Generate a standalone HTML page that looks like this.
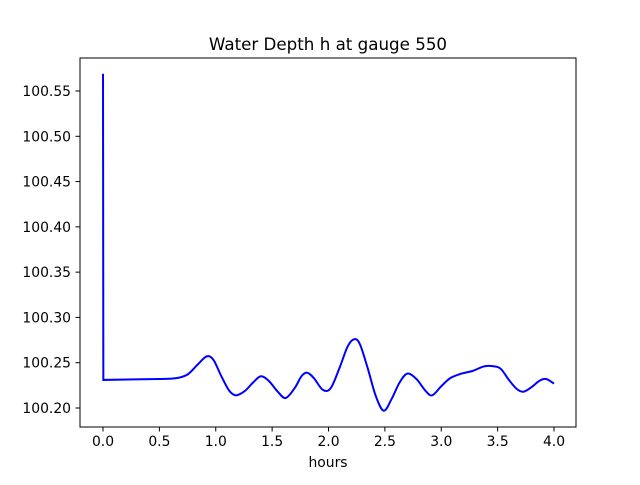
<!DOCTYPE html>
<html><head><meta charset="utf-8"><style>
body{margin:0;background:#fff;}
svg text{font-family:"DejaVu Sans","Liberation Sans",sans-serif;font-size:13.9px;fill:#000;}
</style></head><body>
<svg id="chart" width="640" height="480" xmlns="http://www.w3.org/2000/svg">
<rect x="0" y="0" width="640" height="480" fill="#fff"/>
<text x="328" y="50" text-anchor="middle" style="font-size:16.7px">Water Depth h at gauge 550</text>
<g id="ticks"></g>
<path id="line" fill="none" stroke="#0000ff" stroke-width="2"/>
<rect x="80" y="58" width="496" height="369" fill="none" stroke="#000" stroke-width="1"/>
<text x="328" y="467" text-anchor="middle">hours</text>
</svg>
<script>
const hours=[0,0.003,0.5,0.65,0.75,0.84,0.92,0.98,1.05,1.12,1.18,1.26,1.33,1.4,1.47,1.55,1.62,1.7,1.76,1.81,1.87,1.95,2.02,2.1,2.17,2.23,2.28,2.35,2.42,2.49,2.56,2.63,2.7,2.78,2.86,2.92,3.0,3.08,3.18,3.28,3.38,3.47,3.53,3.6,3.67,3.73,3.8,3.87,3.93,4.0];
const depth=[100.569,100.231,100.232,100.233,100.237,100.248,100.257,100.253,100.235,100.219,100.214,100.219,100.228,100.235,100.230,100.218,100.211,100.222,100.235,100.239,100.233,100.220,100.222,100.245,100.268,100.276,100.270,100.243,100.213,100.197,100.210,100.228,100.238,100.232,100.219,100.214,100.224,100.233,100.238,100.241,100.246,100.246,100.243,100.231,100.221,100.218,100.223,100.230,100.232,100.227];
const xTicks=[0,0.5,1,1.5,2,2.5,3,3.5,4];
const xTickLabels=["0.0","0.5","1.0","1.5","2.0","2.5","3.0","3.5","4.0"];
const yTicks=[100.20,100.25,100.30,100.35,100.40,100.45,100.50,100.55];
const yTickLabels=["100.20","100.25","100.30","100.35","100.40","100.45","100.50","100.55"];
const X=v=>103+v*112.75;
const Y=v=>408-(v-100.20)*905.7;
const NS="http://www.w3.org/2000/svg";
const g=document.getElementById('ticks');
function mk(tag,attrs){const e=document.createElementNS(NS,tag);for(const k in attrs)e.setAttribute(k,attrs[k]);return e;}
xTicks.forEach((t,i)=>{
  const l=mk('line',{x1:X(t),x2:X(t),y1:427,y2:431.5,stroke:'#000','stroke-width':1});
  
  
  g.appendChild(l);
  const tx=mk('text',{x:X(t),y:446,'text-anchor':'middle'});tx.textContent=xTickLabels[i];
  
  
  g.appendChild(tx);
});
yTicks.forEach((t,i)=>{
  const l=mk('line',{x1:75.5,x2:80,y1:Y(t),y2:Y(t),stroke:'#000','stroke-width':1});
  
  
  g.appendChild(l);
  const tx=mk('text',{x:71,y:Y(t)+5,'text-anchor':'end'});tx.textContent=yTickLabels[i];
  
  
  g.appendChild(tx);
});
const pts=hours.map((h,i)=>[X(h),Y(depth[i])]);
let d=`M${pts[0][0]},${pts[0][1]} L${pts[1][0]},${pts[1][1]} L${pts[2][0]},${pts[2][1]}`;
for(let i=2;i<pts.length-1;i++){
  const p0=pts[i-1],p1=pts[i],p2=pts[i+1],p3=pts[Math.min(i+2,pts.length-1)];
  const c1=[p1[0]+(p2[0]-p0[0])/6,p1[1]+(p2[1]-p0[1])/6];
  const c2=[p2[0]-(p3[0]-p1[0])/6,p2[1]-(p3[1]-p1[1])/6];
  d+=` C${c1[0]},${c1[1]} ${c2[0]},${c2[1]} ${p2[0]},${p2[1]}`;
}
document.getElementById('line').setAttribute('d',d);
</script>
</body></html>
